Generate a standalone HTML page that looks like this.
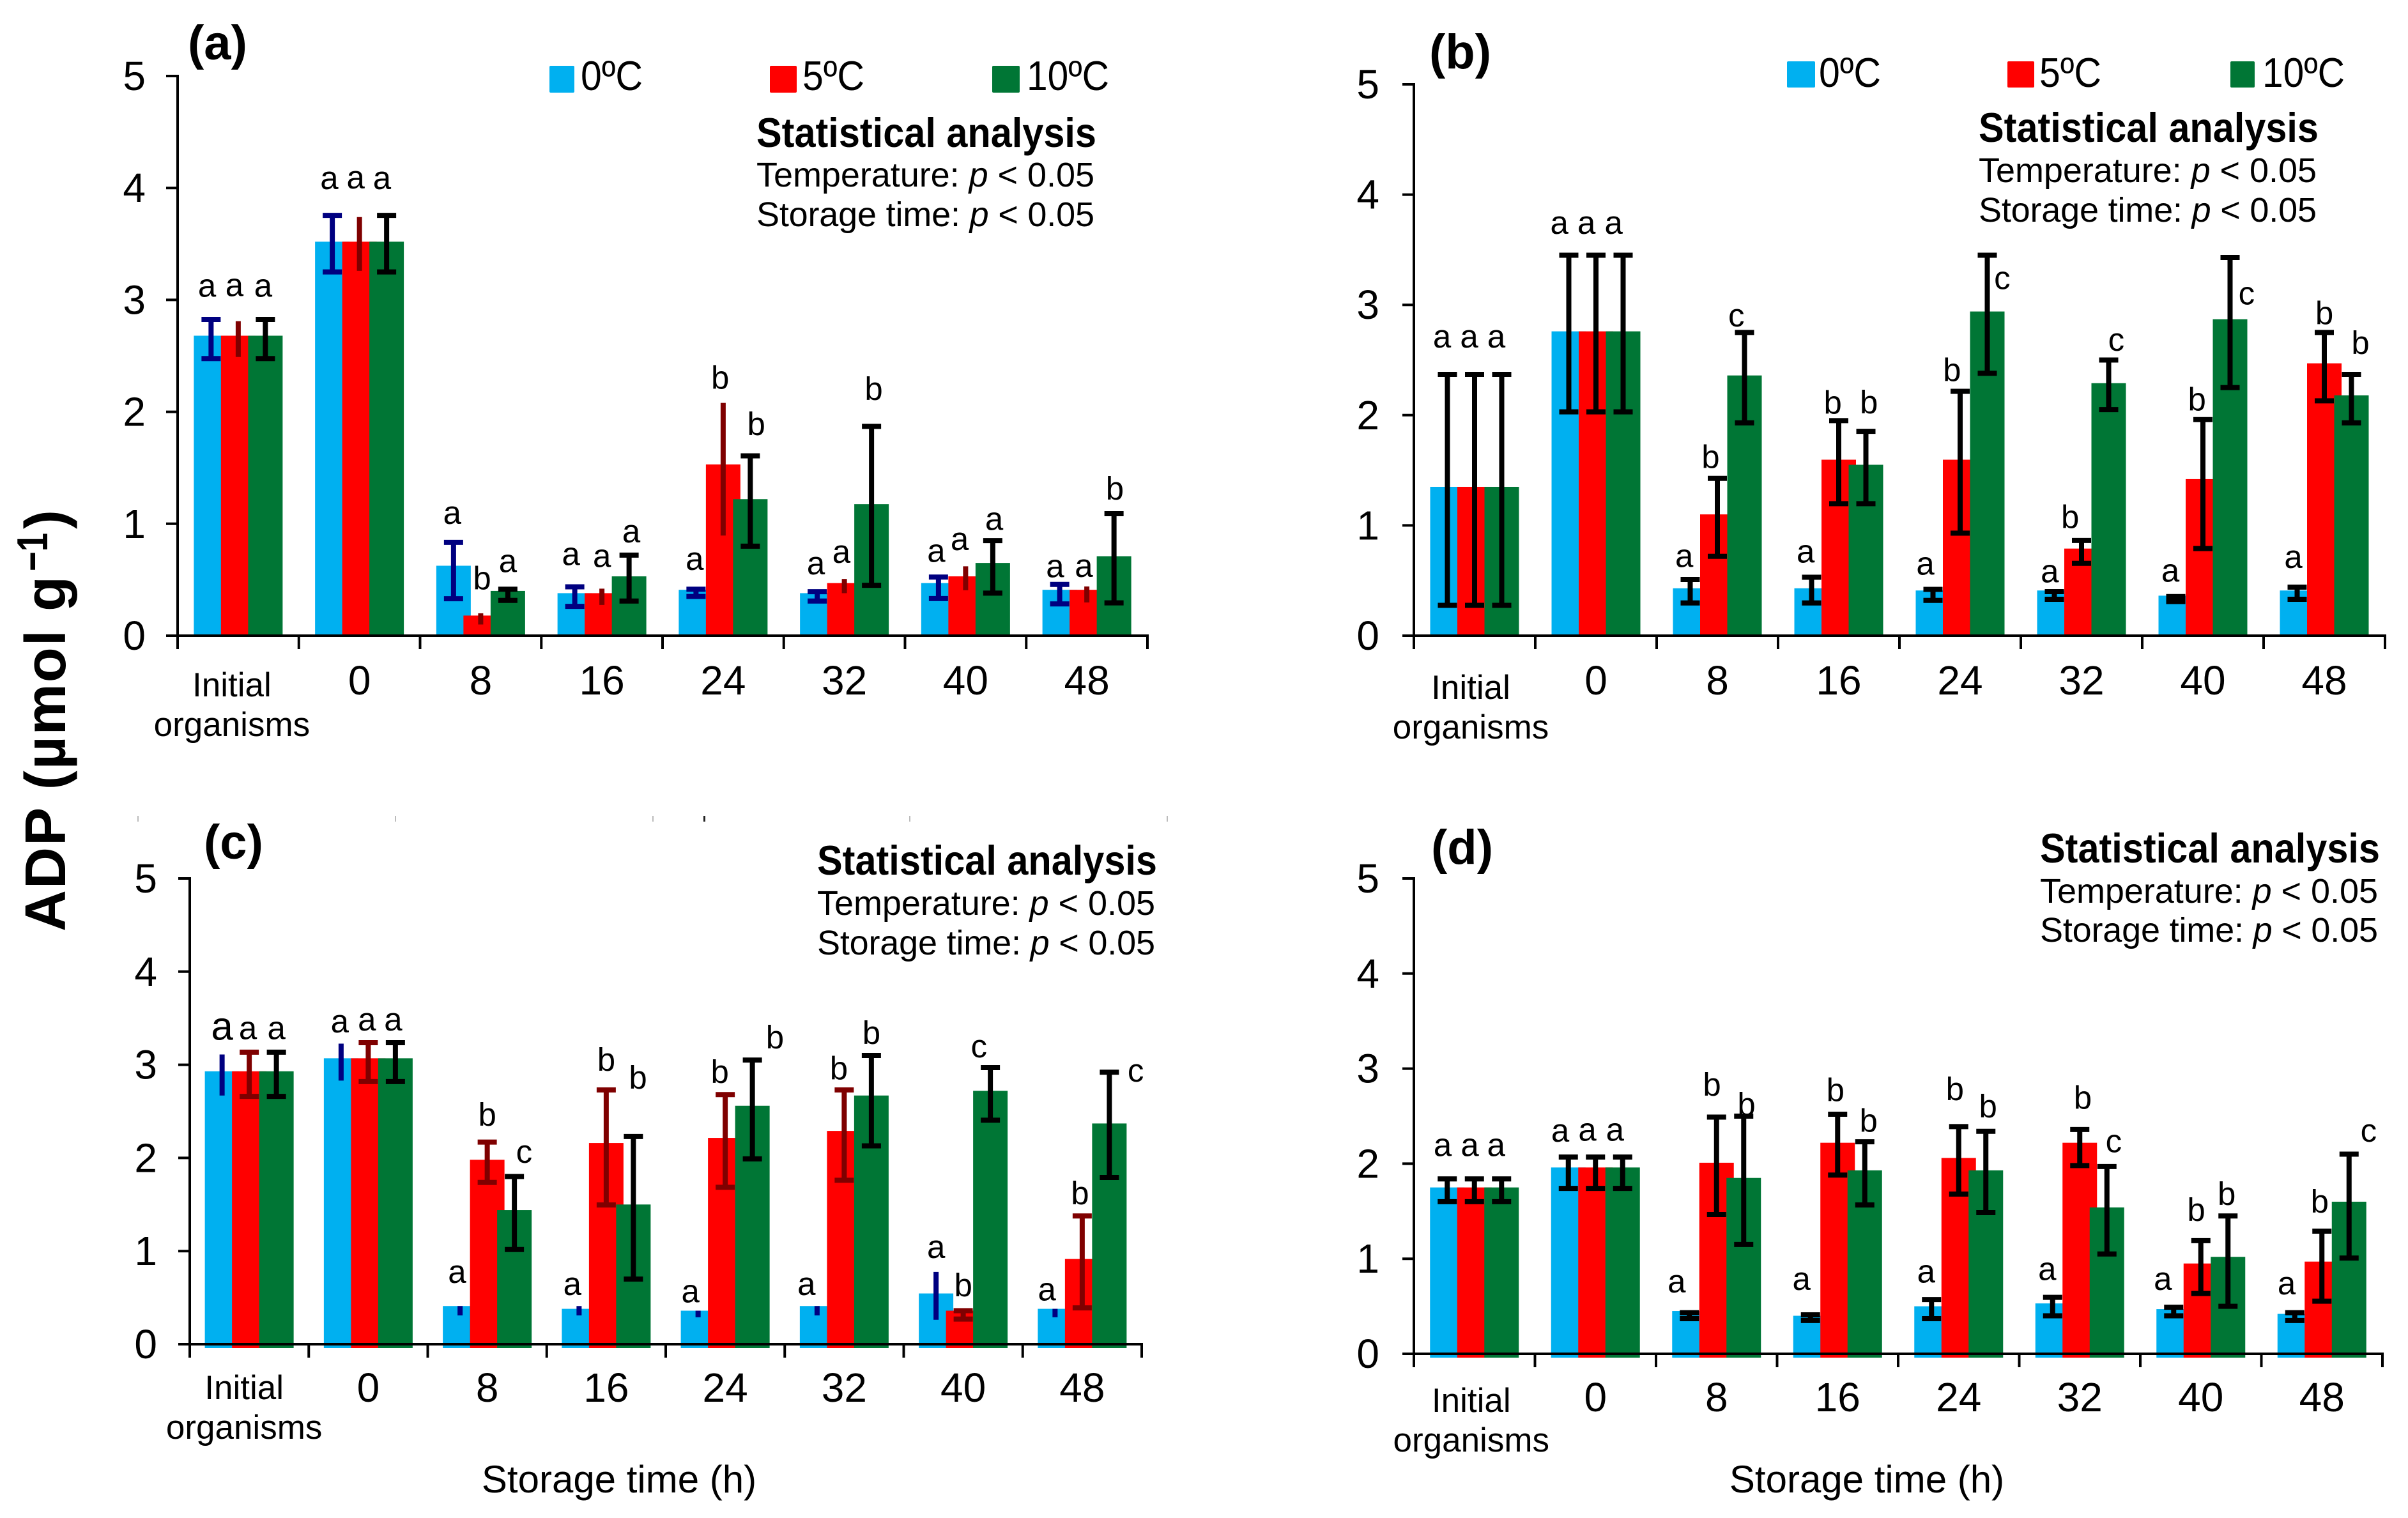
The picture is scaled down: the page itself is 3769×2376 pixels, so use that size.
<!DOCTYPE html>
<html>
<head>
<meta charset="utf-8">
<title>ADP over storage time</title>
<style>
html,body{margin:0;padding:0;background:#fff;}
svg{display:block;font-family:"Liberation Sans",Arial,sans-serif;}
</style>
</head>
<body>
<svg id="figure" xmlns="http://www.w3.org/2000/svg" width="3769" height="2376" viewBox="0 0 3769 2376">
<rect width="3769" height="2376" fill="#fff"/>
<g transform="translate(102,1458) rotate(-90)" font-weight="bold" fill="#000">
<text x="0" y="0" font-size="90" textLength="556" lengthAdjust="spacing">ADP (µmol g</text>
<text x="564" y="-28" font-size="68" textLength="60" lengthAdjust="spacingAndGlyphs">−1</text>
<text x="630" y="0" font-size="90">)</text>
</g>
<text x="969" y="2336" font-size="60" text-anchor="middle">Storage time (h)</text>
<text x="2922" y="2336" font-size="60" text-anchor="middle">Storage time (h)</text>
<g>
<rect x="215" y="1277" width="2" height="9" fill="#bbb"/>
<rect x="618" y="1277" width="2" height="9" fill="#bbb"/>
<rect x="1021" y="1277" width="2" height="9" fill="#bbb"/>
<rect x="1101" y="1277" width="3" height="9" fill="#222"/>
<rect x="1423" y="1277" width="2" height="9" fill="#bbb"/>
<rect x="1826" y="1277" width="2" height="9" fill="#bbb"/>
</g>
</svg>
<script>
// Shared axis content
const categories = ['Initial organisms','0','8','16','24','32','40','48'];
const yTicks = [0,1,2,3,4,5];
const seriesNames = ['0ºC','5ºC','10ºC'];

// Panel (a): means, error-bar tops, error-bar bottoms, letters, letter lift (axis units), letter shift (bar steps)
const aVal0 = [2.68,3.52,0.625,0.38,0.41,0.38,0.47,0.41];
const aVal5 = [2.68,3.52,0.18,0.38,1.53,0.47,0.53,0.41];
const aVal10 = [2.68,3.52,0.40,0.53,1.22,1.175,0.65,0.71];
const aHi0 = [2.825,3.755,0.834,0.437,0.415,0.393,0.524,0.458];
const aHi5 = [2.81,3.74,0.20,0.42,2.08,0.507,0.62,0.44];
const aHi10 = [2.825,3.755,0.415,0.72,1.607,1.87,0.85,1.09];
const aLo0 = [2.476,3.25,0.33,0.262,0.35,0.31,0.332,0.284];
const aLo5 = [2.49,3.26,0.10,0.275,0.895,0.38,0.406,0.297];
const aLo10 = [2.476,3.25,0.315,0.31,0.80,0.45,0.38,0.293];
const aLetters0 = ['a','a','a','a','a','a','a','a'];
const aLetters5 = ['a','a','b','a','b','a','a','a'];
const aLetters10 = ['a','a','a','a','b','b','a','b'];
const aLift0 = [0.28,0.31,0.24,0.27,0.25,0.23,0.21,0.14];
const aLift5 = [0.30,0.33,0.32,0.27,0.23,0.22,0.22,0.16];
const aLift10 = [0.28,0.31,0.23,0.19,0.29,0.34,0.17,0.23];
const aShift0 = [-0.15,-0.11,-0.05,-0.14,-0.05,-0.05,-0.08,-0.17];
const aShift5 = [-0.14,-0.14,0.05,0,-0.11,-0.11,-0.22,-0.11];
const aShift10 = [-0.08,-0.17,0,0.08,0.22,0.08,0.05,0.03];

// Panel (b)
const bVal0 = [1.35,2.76,0.43,0.43,0.41,0.41,0.363,0.41];
const bVal5 = [1.35,2.76,1.10,1.596,1.596,0.79,1.42,2.47];
const bVal10 = [1.35,2.76,2.36,1.55,2.94,2.29,2.87,2.18];
const bHi0 = [2.37,3.45,0.51,0.53,0.42,0.40,0.355,0.44];
const bHi5 = [2.37,3.45,1.427,1.95,2.216,0.864,1.96,2.75];
const bHi10 = [2.37,3.45,2.75,1.853,3.45,2.50,3.43,2.37];
const bLo0 = [0.275,2.03,0.297,0.297,0.32,0.33,0.31,0.33];
const bLo5 = [0.275,2.03,0.72,1.197,0.93,0.656,0.79,2.13];
const bLo10 = [0.275,2.03,1.93,1.197,2.38,2.05,2.25,1.93];
const bLetters0 = ['a','a','a','a','a','a','a','a'];
const bLetters5 = ['a','a','b','b','b','b','b','b'];
const bLetters10 = ['a','a','c','b','c','c','c','b'];
const bLift0 = [0.32,0.27,0.19,0.21,0.21,0.16,0.21,0.25];
const bLift5 = [0.32,0.27,0.20,0.17,0.20,0.22,0.19,0.18];
const bLift10 = [0.32,0.27,0.13,0.27,-0.23,0.16,-0.35,0.29];
const bShift0 = [-0.2,-0.35,-0.22,-0.22,-0.28,-0.17,-0.2,-0.14];
const bShift5 = [-0.2,-0.35,-0.25,-0.22,-0.3,-0.42,-0.22,0];
const bShift10 = [-0.2,-0.35,-0.3,0.11,0.55,0.28,0.61,0.33];

// Panel (c)
const cVal0 = [2.93,3.07,0.41,0.38,0.36,0.41,0.545,0.38];
const cVal5 = [2.93,3.07,1.98,2.16,2.215,2.29,0.36,0.915];
const cVal10 = [2.93,3.07,1.44,1.50,2.56,2.67,2.72,2.37];
const cHi0 = [3.11,3.227,0.41,0.41,0.36,0.41,0.776,0.38];
const cHi5 = [3.135,3.237,2.17,2.73,2.68,2.73,0.36,1.377];
const cHi10 = [3.135,3.237,1.80,2.23,3.05,3.10,2.97,2.92];
const cLo0 = [2.67,2.83,0.31,0.31,0.29,0.31,0.262,0.29];
const cLo5 = [2.66,2.82,1.737,1.495,1.685,1.76,0.27,0.39];
const cLo10 = [2.66,2.82,1.017,0.70,1.99,2.13,2.405,1.79];
const cLetters0 = ['a','a','a','a','a','a','a','a'];
const cLetters5 = ['a','a','b','b','b','b','b','b'];
const cLetters10 = ['a','a','c','b','b','b','c','c'];
const cLift0 = [0.27,0.21,0.34,0.21,0.18,0.21,0.24,0.18];
const cLift5 = [0.23,0.22,0.30,0.33,0.25,0.24,0.28,0.25];
const cLift10 = [0.23,0.22,0.24,0.64,0.25,0.25,0.20,-0.01];
const cShift0 = [0,-0.05,-0.11,-0.25,-0.28,-0.39,0,-0.3];
const cShift5 = [-0.05,-0.05,0,0,-0.2,-0.2,0,-0.08];
const cShift10 = [0,-0.08,0.36,0.17,0.83,0,-0.42,0.97];

// Panel (d)
const dVal0 = [1.75,1.96,0.45,0.40,0.50,0.53,0.47,0.42];
const dVal5 = [1.75,1.96,2.01,2.22,2.06,2.22,0.95,0.97];
const dVal10 = [1.75,1.96,1.85,1.93,1.93,1.54,1.02,1.60];
const dHi0 = [1.84,2.07,0.433,0.41,0.57,0.594,0.49,0.433];
const dHi5 = [1.84,2.07,2.49,2.52,2.39,2.36,1.19,1.29];
const dHi10 = [1.84,2.07,2.50,2.23,2.34,1.97,1.45,2.10];
const dLo0 = [1.60,1.74,0.37,0.35,0.37,0.40,0.40,0.35];
const dLo5 = [1.60,1.74,1.465,1.88,1.68,1.98,0.634,0.554];
const dLo10 = [1.60,1.74,1.15,1.566,1.485,1.05,0.50,1.007];
const dLetters0 = ['a','a','a','a','a','a','a','a'];
const dLetters5 = ['a','a','b','b','b','b','b','b'];
const dLetters10 = ['a','a','b','b','b','c','b','c'];
const dLift0 = [0.33,0.25,0.30,0.35,0.27,0.27,0.27,0.28];
const dLift5 = [0.33,0.26,0.35,0.26,0.40,0.34,0.33,0.32];
const dLift10 = [0.33,0.26,0.13,0.23,0.27,0.24,0.24,0.22];
const dShift0 = [-0.17,-0.3,-0.47,-0.33,-0.2,-0.2,-0.4,-0.3];
const dShift5 = [-0.17,-0.3,-0.17,-0.08,-0.14,0.11,-0.17,-0.08];
const dShift10 = [-0.2,-0.28,0.1,0.14,0.08,0.25,-0.05,0.72];

const NS = 'http://www.w3.org/2000/svg';
const fig = document.getElementById('figure');
const barColors = ['#00B0F0','#FF0000','#007635'];

function make(tag, attrs, parent, txt) {
  const el = document.createElementNS(NS, tag);
  for (const k in attrs) el.setAttribute(k, attrs[k]);
  if (txt !== undefined) el.textContent = txt;
  parent.appendChild(el);
  return el;
}

const panels = [
  {id:'a', left:278, right:1796, y0:995, y5:119, sink:0, val:[aVal0,aVal5,aVal10], hi:[aHi0,aHi5,aHi10], lo:[aLo0,aLo5,aLo10], letters:[aLetters0,aLetters5,aLetters10], lift:[aLift0,aLift5,aLift10], shift:[aShift0,aShift5,aShift10],
   errColor:['#000080','#7F0000','#000'], caps:[true,false,true], tickRight:228, digitBase:1087, initBase:1090, orgBase:1152, initShift:-10,
   tag:[294,93], stat:[1184,230,292,354], legend:{y:103,h:42,base:141,sw:[860,1205,1553],sww:[39,42,43],tx:[909,1256,1607]}},
  {id:'b', left:2213, right:3733, y0:995, y5:132, sink:0, val:[bVal0,bVal5,bVal10], hi:[bHi0,bHi5,bHi10], lo:[bLo0,bLo5,bLo10], letters:[bLetters0,bLetters5,bLetters10], lift:[bLift0,bLift5,bLift10], shift:[bShift0,bShift5,bShift10],
   errColor:['#000','#000','#000'], caps:[true,true,true], tickRight:2159, digitBase:1087, initBase:1094, orgBase:1156, initShift:-6,
   tag:[2237,107], stat:[3097,222,285,347], legend:{y:96,h:41,base:136,sw:[2797,3142,3491],sww:[44,42,38],tx:[2847,3192,3541]}},
  {id:'c', left:297, right:1787, y0:2104, y5:1375, sink:6, val:[cVal0,cVal5,cVal10], hi:[cHi0,cHi5,cHi10], lo:[cLo0,cLo5,cLo10], letters:[cLetters0,cLetters5,cLetters10], lift:[cLift0,cLift5,cLift10], shift:[cShift0,cShift5,cShift10],
   errColor:['#000080','#7F0000','#000'], caps:[false,true,true], tickRight:246, digitBase:2194, initBase:2190, orgBase:2252, initShift:-8, bigFirst:true,
   tag:[319,1344], stat:[1279,1369,1432,1494]},
  {id:'d', left:2213, right:3729, y0:2119, y5:1375, sink:6, val:[dVal0,dVal5,dVal10], hi:[dHi0,dHi5,dHi10], lo:[dLo0,dLo5,dLo10], letters:[dLetters0,dLetters5,dLetters10], lift:[dLift0,dLift5,dLift10], shift:[dShift0,dShift5,dShift10],
   errColor:['#000','#000','#000'], caps:[true,true,true], tickRight:2159, digitBase:2209, initBase:2210, orgBase:2272, initShift:-5,
   tag:[2240,1352], stat:[3193,1350,1413,1474]}
];

const legendLengths = [97,97,129];

panels.forEach(function (p) {
  const g = make('g', {}, fig);
  
  

  const yOf = function (v) { return p.y0 - (v / 5) * (p.y0 - p.y5); };
  const catW = (p.right - p.left) / categories.length;
  const centerOf = function (i) { return p.left + catW * (i + 0.5); };
  const barW = 54, step = 42.5;
  const xOf = function (i, s) { return centerOf(i) + (s - 1) * step; };

  // series drawn in order, each bar set followed by its error bars, so later bars occlude earlier whiskers
  [0, 1, 2].forEach(function (s) {
    categories.forEach(function (c, i) {
      const v = p.val[s][i];
      const bar = make('rect', {x: xOf(i, s) - barW / 2, y: yOf(v), width: barW, height: yOf(0) - yOf(v) + p.sink, fill: barColors[s]}, g);
      
      
    });
    categories.forEach(function (c, i) {
      const cx = xOf(i, s), t = yOf(p.hi[s][i]), b = yOf(p.lo[s][i]);
      const eg = make('g', {stroke: p.errColor[s], fill: 'none'}, g);
      
      
      make('line', {x1: cx, x2: cx, y1: t, y2: b, 'stroke-width': 8}, eg);
      if (p.caps[s]) {
        make('line', {x1: cx - 15, x2: cx + 15, y1: t, y2: t, 'stroke-width': 8}, eg);
        make('line', {x1: cx - 15, x2: cx + 15, y1: b, y2: b, 'stroke-width': 8}, eg);
      }
    });
  });

  // significance letters
  [0, 1, 2].forEach(function (s) {
    categories.forEach(function (c, i) {
      const big = p.bigFirst && i === 0 && s === 0;
      const fs = big ? 62 : 51;
      const letter = p.letters[s][i];
      const lx = xOf(i, s) + p.shift[s][i] * step;
      const ly = yOf(p.hi[s][i] + p.lift[s][i]) + fs * (letter === 'b' ? 0.36 : 0.26);
      const t = make('text', {x: lx, y: ly, 'font-size': fs, 'text-anchor': 'middle', fill: '#000'}, g, letter);
      
      
    });
  });

  // y axis
  const yLine = make('line', {x1: p.left, x2: p.left, y1: p.y5 - 2, y2: p.y0 + 2, stroke: '#000', 'stroke-width': 4}, g);
  
  
  yTicks.forEach(function (v) {
    const tk = make('line', {x1: p.left - 18, x2: p.left, y1: yOf(v), y2: yOf(v), stroke: '#000', 'stroke-width': 4}, g);
    
    
    const lab = make('text', {x: p.tickRight, y: yOf(v) + 22, 'font-size': 64, 'text-anchor': 'end', fill: '#000'}, g, String(v));
    
    
  });

  // x axis
  const xLine = make('line', {x1: p.left - 18, x2: p.right + 2, y1: p.y0, y2: p.y0, stroke: '#000', 'stroke-width': 4}, g);
  
  
  for (let i = 0; i <= categories.length; i++) {
    const tx = p.left + catW * i;
    const tk = make('line', {x1: tx, x2: tx, y1: p.y0, y2: p.y0 + 21, stroke: '#000', 'stroke-width': 4}, g);
    
    
  }
  categories.forEach(function (c, i) {
    if (i === 0) {
      const parts = c.split(' ');
      const l1 = make('text', {x: centerOf(0) + p.initShift, y: p.initBase, 'font-size': 53, 'text-anchor': 'middle', fill: '#000'}, g, parts[0]);
      
      
      const l2 = make('text', {x: centerOf(0) + p.initShift, y: p.orgBase, 'font-size': 53, 'text-anchor': 'middle', fill: '#000'}, g, parts[1]);
      
      
    } else {
      const l = make('text', {x: centerOf(i), y: p.digitBase, 'font-size': 64, 'text-anchor': 'middle', fill: '#000'}, g, c);
      
      
    }
  });

  // panel letter
  const tag = make('text', {x: p.tag[0], y: p.tag[1], 'font-size': 76, 'font-weight': 'bold', fill: '#000'}, g, '(' + p.id + ')');
  
  

  // statistics block
  const st = make('text', {x: p.stat[0], y: p.stat[1], 'font-size': 65, 'font-weight': 'bold', fill: '#000', textLength: 532, lengthAdjust: 'spacingAndGlyphs'}, g, 'Statistical analysis');
  
  
  ['Temperature: ', 'Storage time: '].forEach(function (label, k) {
    const line = make('text', {x: p.stat[0], y: p.stat[2 + k], 'font-size': 54, fill: '#000', textLength: 529, lengthAdjust: 'spacing'}, g, label);
    
    
    make('tspan', {'font-style': 'italic'}, line, 'p');
    make('tspan', {}, line, ' < 0.05');
  });

  // legend
  if (p.legend) {
    seriesNames.forEach(function (n, s) {
      const lg = make('g', {}, g);
      
      
      make('rect', {x: p.legend.sw[s], y: p.legend.y, width: p.legend.sww[s], height: p.legend.h, rx: 2, fill: barColors[s]}, lg);
      make('text', {x: p.legend.tx[s], y: p.legend.base, 'font-size': 65, fill: '#000', textLength: legendLengths[s], lengthAdjust: 'spacingAndGlyphs'}, lg, n);
    });
  }
});
</script>
</body>
</html>
